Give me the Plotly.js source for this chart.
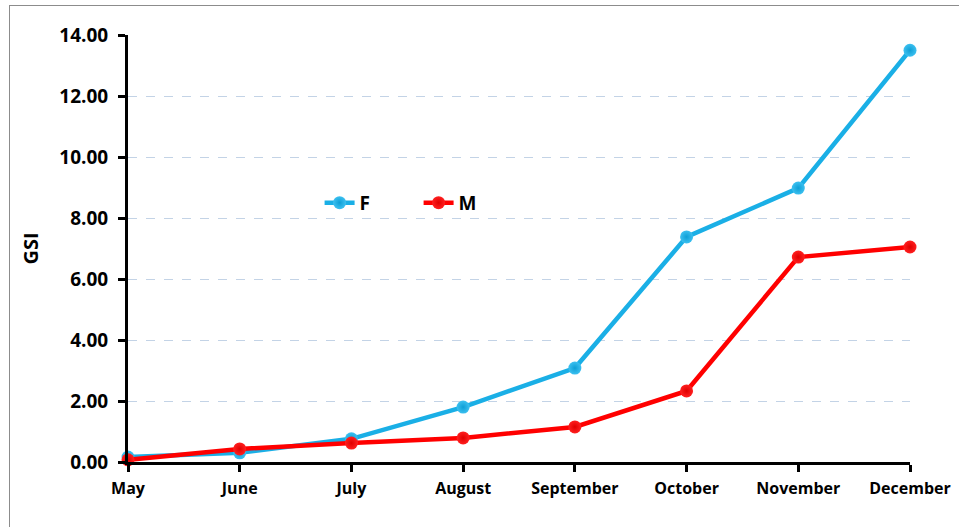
<!DOCTYPE html>
<html>
<head>
<meta charset="utf-8">
<script src="https://cdn.plot.ly/plotly-3.0.1.min.js"></script>
<style>
html,body{margin:0;padding:0;background:#fff;}
#wrap{position:relative;width:959px;height:527px;overflow:hidden;}
#chart{position:absolute;left:0;top:0;width:959px;height:527px;}
#frame{position:absolute;left:9px;top:5px;width:960px;height:540px;border-left:1px solid #8c8c8c;border-top:1px solid #8c8c8c;pointer-events:none;}
</style>
</head>
<body>
<div id="wrap"><div id="chart"></div><div id="frame"></div></div>
<script>
const months = ["May","June","July","August","September","October","November","December"];
const femaleGSI = [0.16, 0.30, 0.76, 1.80, 3.08, 7.38, 8.98, 13.50];
const maleGSI = [0.07, 0.43, 0.62, 0.79, 1.15, 2.33, 6.72, 7.05];
const yTicks = [0,2,4,6,8,10,12,14];
const yTickText = ["0.00","2.00","4.00","6.00","8.00","10.00","12.00","14.00"];

const fontFam = "'Open Sans', 'Liberation Sans', sans-serif";

const traces = [
  {
    x: months, y: femaleGSI, name: "F", type: "scatter", mode: "lines+markers",
    line: {color: "#1AAFE6", width: 4.5},
    marker: {color: "#3cc0f0", size: 13, gradient: {type: "radial", color: "#0e9fd6"}},
    cliponaxis: false
  },
  {
    x: months, y: maleGSI, name: "M", type: "scatter", mode: "lines+markers",
    line: {color: "#FF0000", width: 4.5},
    marker: {color: "#ff2020", size: 13, gradient: {type: "radial", color: "#e00000"}},
    cliponaxis: false
  }
];

const layout = {
  width: 959, height: 527,
  margin: {l: 128, r: 49, t: 35, b: 65},
  paper_bgcolor: "#ffffff", plot_bgcolor: "#ffffff",
  font: {family: fontFam, color: "#000", size: 16},
  showlegend: true,
  legend: {
    orientation: "h", x: 0.245, y: 0.607, xanchor: "left", yanchor: "middle",
    font: {family: fontFam, size: 19, color: "#000", weight: "bold"},
    bgcolor: "rgba(0,0,0,0)", entrywidth: 54, entrywidthmode: "pixels"
  },
  xaxis: {
    type: "category", range: [0, 7],
    showline: true, linecolor: "#000", linewidth: 3,
    ticks: "outside", ticklen: 7, tickwidth: 3, tickcolor: "#000",
    showgrid: false, zeroline: false,
    tickfont: {family: fontFam, size: 16, color: "#000", weight: "bold"},
    ticklabelstandoff: 3
  },
  yaxis: {
    range: [0, 14], tickvals: yTicks, ticktext: yTickText,
    showline: true, linecolor: "#000", linewidth: 3,
    ticks: "outside", ticklen: 7, tickwidth: 3, tickcolor: "#000",
    showgrid: true, gridcolor: "#c3d3e6", griddash: "dash", gridwidth: 1,
    zeroline: false,
    tickfont: {family: fontFam, size: 19, color: "#000", weight: "bold"},
    ticklabelstandoff: 6,
    title: {text: "GSI", font: {family: fontFam, size: 20, color: "#000", weight: "bold"}, standoff: 16}
  }
};

Plotly.newPlot("chart", traces, layout, {displayModeBar: false, staticPlot: true});
</script>
</body>
</html>
